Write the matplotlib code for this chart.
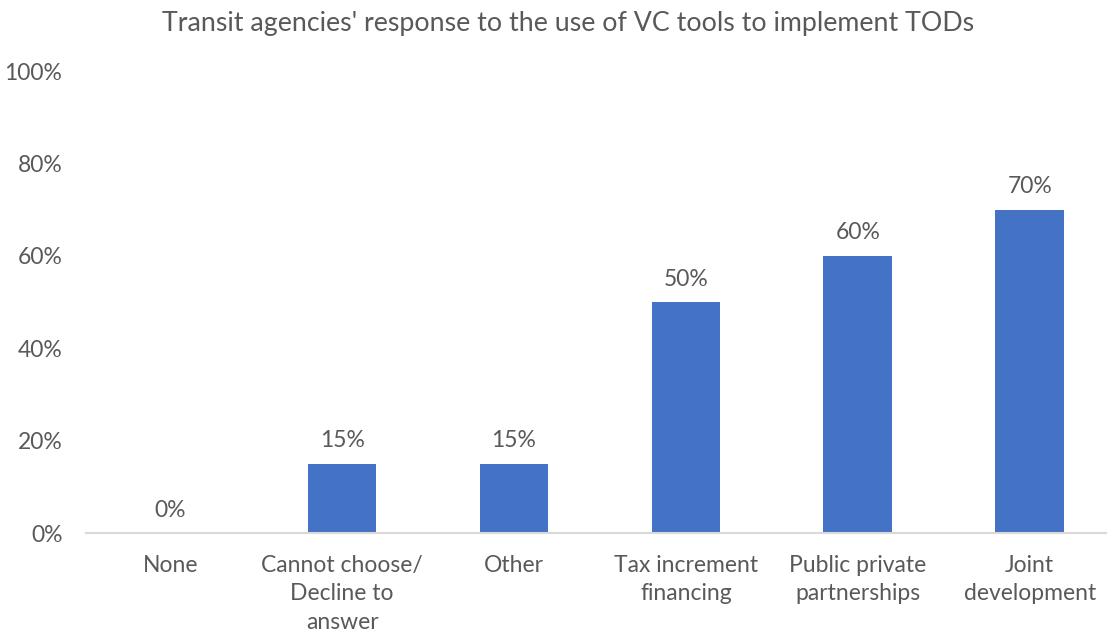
import matplotlib
matplotlib.use('Agg')
from matplotlib import pyplot as plt
from matplotlib.ticker import PercentFormatter

#chart values
categories = ['None', 'Cannot choose/\nDecline to\nanswer', 'Other', 'Tax increment\nfinancing',
              'Public private\npartnerships', 'Joint\ndevelopment']
values = [0, 15, 15, 50, 60, 70]
yTicks = [0, 20, 40, 60, 80, 100]
title = "Transit agencies' response to the use of VC tools to implement TODs"

textCol = '#595959'
barCol = '#4472C4'

plt.rcParams['font.family'] = ['Lato', 'DejaVu Sans']

fig = plt.figure(figsize=(11.07, 6.34), dpi=100)
ax = fig.add_axes([0.0777, 0.1593, 0.9223, 0.7287])

xs = range(len(categories))
bars = ax.bar(xs, values, width=0.4, color=barCol, zorder=2)

for x, v in zip(xs, values):
	ax.annotate('%d%%'%v, (x, v), xytext=(0, 9), textcoords='offset points',
		ha='center', va='bottom', fontsize=16.5, color=textCol)

ax.set_xlim(-0.49, 5.45)
ax.set_ylim(0, 100)
ax.set_yticks(yTicks)
ax.yaxis.set_major_formatter(PercentFormatter(decimals=0))
ax.set_xticks(list(xs))
ax.set_xticklabels(categories, linespacing=1.45)

ax.tick_params(axis='both', length=0, labelsize=16.5, colors=textCol)
ax.tick_params(axis='x', pad=15.5)
ax.tick_params(axis='y', pad=17)

for s in ['top', 'right', 'left']:
	ax.spines[s].set_visible(False)
ax.spines['bottom'].set_color('#D9D9D9')
ax.spines['bottom'].set_linewidth(1.5)

fig.text(0.513, 0.963, title, ha='center', va='center', fontsize=19.3, color=textCol)

fig.savefig('out.png', dpi=100)
